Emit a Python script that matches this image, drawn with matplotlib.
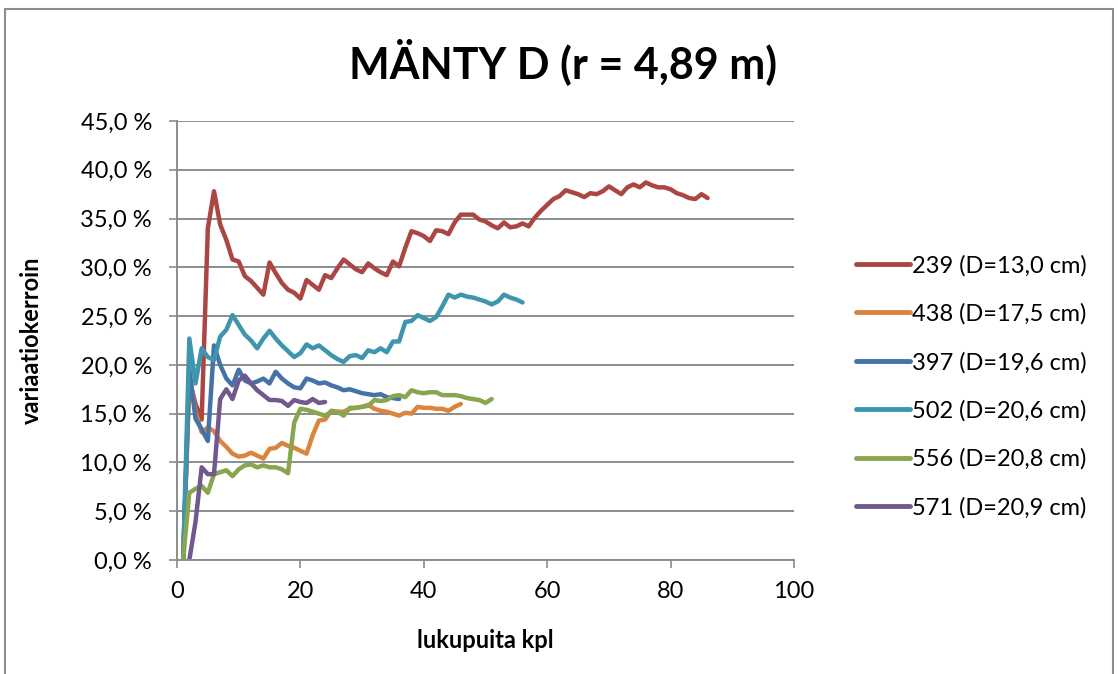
import matplotlib
matplotlib.use("Agg")
import matplotlib.pyplot as plt
from matplotlib.ticker import FuncFormatter, MultipleLocator
from matplotlib.lines import Line2D

plt.rcParams['font.family'] = ['Lato', 'DejaVu Sans']

# variaatiokerroin (%) lukupuiden määrän mukaan
s239 = [0, 18.5, 16.0, 14.4, 34.0, 37.8, 34.4, 32.8, 30.8, 30.6,
        29.1, 28.6, 27.9, 27.2, 30.5, 29.4, 28.4, 27.7, 27.4, 26.8,
        28.7, 28.2, 27.7, 29.2, 28.9, 29.9, 30.8, 30.3, 29.8, 29.5,
        30.4, 29.9, 29.5, 29.2, 30.6, 30.1, 32.0, 33.7, 33.5, 33.2,
        32.7, 33.8, 33.7, 33.4, 34.6, 35.4, 35.4, 35.4, 34.9, 34.7,
        34.3, 34.0, 34.6, 34.1, 34.2, 34.5, 34.2, 35.1, 35.8, 36.4,
        37.0, 37.3, 37.9, 37.7, 37.5, 37.2, 37.6, 37.5, 37.8, 38.3,
        37.9, 37.5, 38.2, 38.5, 38.2, 38.7, 38.4, 38.2, 38.2, 38.0,
        37.6, 37.4, 37.1, 37.0, 37.5, 37.1]
s438 = [0, 19.0, 15.2, 13.1, 13.6, 13.2, 12.2, 11.6, 10.9, 10.6,
        10.7, 11.0, 10.7, 10.4, 11.4, 11.5, 12.0, 11.7, 11.5, 11.2,
        10.9, 12.8, 14.3, 14.4, 15.3, 15.2, 15.2, 15.5, 15.6, 15.7,
        15.9, 15.5, 15.3, 15.2, 15.0, 14.8, 15.1, 15.0, 15.7, 15.6,
        15.6, 15.5, 15.5, 15.3, 15.7, 16.0]
s397 = [0, 19.6, 14.5, 13.4, 12.2, 22.0, 20.0, 18.6, 17.9, 19.5,
        18.4, 18.1, 18.3, 18.6, 18.1, 19.3, 18.6, 18.1, 17.7, 17.6,
        18.6, 18.4, 18.1, 18.2, 17.9, 17.7, 17.4, 17.5, 17.3, 17.1,
        17.0, 16.9, 17.0, 16.7, 16.6, 16.5]
s502 = [0, 22.7, 18.1, 21.7, 20.8, 20.5, 22.9, 23.6, 25.1, 24.1,
        23.1, 22.5, 21.7, 22.7, 23.5, 22.7, 22.0, 21.4, 20.8, 21.2,
        22.1, 21.7, 22.0, 21.5, 21.0, 20.6, 20.3, 20.9, 21.0, 20.7,
        21.5, 21.3, 21.7, 21.3, 22.4, 22.4, 24.4, 24.5, 25.1, 24.8,
        24.5, 24.9, 26.0, 27.2, 26.9, 27.2, 27.0, 26.9, 26.7, 26.5,
        26.2, 26.5, 27.2, 26.9, 26.7, 26.4]
s556 = [0, 6.9, 7.3, 7.6, 6.9, 8.8, 9.0, 9.2, 8.6, 9.3,
        9.7, 9.8, 9.5, 9.7, 9.5, 9.5, 9.3, 8.9, 14.1, 15.5,
        15.4, 15.2, 15.0, 14.8, 15.2, 15.2, 14.8, 15.6, 15.6, 15.7,
        15.8, 16.4, 16.3, 16.4, 16.8, 16.9, 16.7, 17.4, 17.2, 17.1,
        17.2, 17.2, 16.9, 16.9, 16.9, 16.8, 16.6, 16.5, 16.4, 16.1,
        16.5]
s571 = [0, 3.9, 9.5, 8.8, 8.8, 16.5, 17.5, 16.5, 18.4, 18.9,
        18.1, 17.4, 16.9, 16.4, 16.4, 16.3, 15.8, 16.4, 16.2, 16.1,
        16.5, 16.1, 16.2]

series = [
    ('239 (D=13,0 cm)', 1, s239, '#AA4643'),
    ('438 (D=17,5 cm)', 1, s438, '#DB843D'),
    ('397 (D=19,6 cm)', 1, s397, '#4572A7'),
    ('502 (D=20,6 cm)', 1, s502, '#3D96AE'),
    ('556 (D=20,8 cm)', 1, s556, '#89A54E'),
    ('571 (D=20,9 cm)', 2, s571, '#71588F'),
]

fig = plt.figure(figsize=(11.18, 6.74), dpi=100)
ax = fig.add_axes([0.1583, 0.1691, 0.5519, 0.6514])

for label, start, vals, col in series:
    xs = list(range(start, start + len(vals)))
    ax.plot(xs, vals, color=col, lw=3.2, label=label,
            solid_joinstyle='round', solid_capstyle='round')

ax.set_xlim(0, 100)
ax.set_ylim(0, 45)
ax.xaxis.set_major_locator(MultipleLocator(20))
ax.yaxis.set_major_locator(MultipleLocator(5))
ax.yaxis.set_major_formatter(FuncFormatter(lambda v, p: f'{v:.1f} %'.replace('.', ',')))
ax.grid(axis='y', color='#8C8C8C', lw=1.4)
ax.set_axisbelow(True)
for s in ['top', 'right']:
    ax.spines[s].set_visible(False)
for s in ['left', 'bottom']:
    ax.spines[s].set_color('#8C8C8C')
    ax.spines[s].set_linewidth(1.4)
ax.tick_params(colors='#8C8C8C', width=1.2, length=6, labelcolor='black',
               labelsize=17)
ax.tick_params(axis='y', pad=12)
ax.tick_params(axis='x', pad=9)

ax.set_xlabel('lukupuita kpl', fontsize=17, fontweight='bold')
ax.set_ylabel('variaatiokerroin', fontsize=17, fontweight='bold')
ax.xaxis.set_label_coords(0.5, -0.158)
ax.yaxis.set_label_coords(-0.218, 0.5)
fig.text(0.5035, 0.908, 'MÄNTY D (r = 4,89 m)', ha='center', va='center',
         fontsize=31, fontweight='bold')

handles = [Line2D([0], [0], color=c, lw=3.5, solid_capstyle='round')
           for _, _, _, c in series]
labels = [l for l, _, _, _ in series]
fig.legend(handles, labels, loc='upper left', bbox_to_anchor=(0.757, 0.636),
           frameon=False, fontsize=17, handlelength=2.3, handletextpad=0.1,
           labelspacing=1.14, borderaxespad=0)

# kaavioalueen reunus
fig.add_artist(Line2D([0.0045, 0.0045, 0.9955, 0.9955], [0, 0.987, 0.987, 0],
                      color='#8C8C8C', lw=1.5, transform=fig.transFigure))

fig.savefig('out.png', dpi=100)
